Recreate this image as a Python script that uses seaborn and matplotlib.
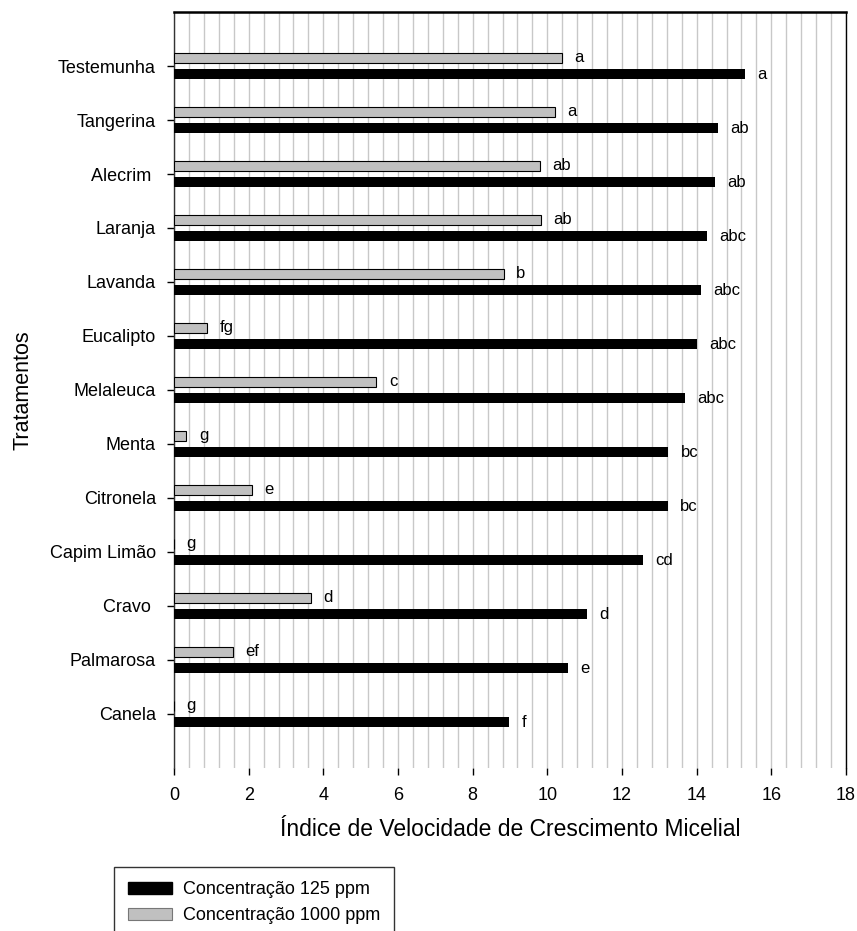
import matplotlib
matplotlib.use("Agg")
import matplotlib.pyplot as plt
from matplotlib.patches import Patch
from matplotlib.ticker import MultipleLocator
import numpy as np
import pandas as pd
import seaborn as sns

# values
treatments = ["Testemunha", "Tangerina", "Alecrim ", "Laranja", "Lavanda", "Eucalipto",
              "Melaleuca", "Menta", "Citronela", "Capim Limão", "Cravo ", "Palmarosa", "Canela"]
conc_125 = [15.29, 14.56, 14.48, 14.28, 14.11, 14.00, 13.69, 13.24, 13.22, 12.55, 11.05, 10.56, 8.97]
conc_1000 = [10.39, 10.21, 9.80, 9.82, 8.83, 0.89, 5.42, 0.33, 2.08, 0.0, 3.66, 1.57, 0.0]
letters_125 = ["a", "ab", "ab", "abc", "abc", "abc", "abc", "bc", "bc", "cd", "d", "e", "f"]
letters_1000 = ["a", "a", "ab", "ab", "b", "fg", "c", "g", "e", "g", "d", "ef", "g"]

series_names = ["Concentração 125 ppm", "Concentração 1000 ppm"]
series_colors = {"Concentração 125 ppm": "#000000", "Concentração 1000 ppm": "#c0c0c0"}

df = pd.DataFrame({
    "Tratamento": treatments * 2,
    "Indice": conc_125 + conc_1000,
    "Concentracao": [series_names[0]] * len(treatments) + [series_names[1]] * len(treatments),
})

sns.set_style("white")
plt.rcParams["font.family"] = ["Liberation Sans", "DejaVu Sans"]
plt.rcParams["text.color"] = "black"
plt.rcParams["axes.labelcolor"] = "black"
plt.rcParams["xtick.color"] = "black"
plt.rcParams["ytick.color"] = "black"

fig = plt.figure(figsize=(8.57, 9.31), dpi=100)
ax = fig.add_axes([174 / 857, 1 - 768 / 931, (846 - 174) / 857, (768 - 12) / 931])

# gray (1000 ppm) first so it sits above the black bar
hue_order = [series_names[1], series_names[0]]
sns.barplot(data=df, y="Tratamento", x="Indice", hue="Concentracao", hue_order=hue_order,
            order=treatments, palette=series_colors, orient="h", width=0.6, gap=0.4,
            saturation=1, legend=False, ax=ax, zorder=3)

gray_bars, black_bars = ax.containers[0], ax.containers[1]
for p in gray_bars:
    p.set_edgecolor("black")
    p.set_linewidth(0.8)
for p in black_bars:
    p.set_edgecolor("none")

ax.bar_label(gray_bars, labels=letters_1000, padding=9, fontsize=12)
ax.bar_label(black_bars, labels=letters_125, padding=9, fontsize=12)

ax.set_xlim(0, 18)
ax.set_ylim(13.0, -1.0)
ax.xaxis.set_major_locator(MultipleLocator(2))
ax.xaxis.set_minor_locator(MultipleLocator(0.4))
ax.set_axisbelow(True)
ax.grid(True, which="both", axis="x", color="#c8c8c8", lw=1.0)
ax.grid(False, axis="y")

ax.tick_params(axis="x", which="major", bottom=True, length=5, width=1, color="black",
               labelsize=13, pad=9)
ax.tick_params(axis="x", which="minor", length=0)
ax.tick_params(axis="y", left=True, length=5, width=1, color="black", labelsize=13, pad=8)

for side in ["top", "right", "left"]:
    ax.spines[side].set_visible(True)
ax.spines["bottom"].set_visible(False)
ax.spines["top"].set_color("black")
ax.spines["top"].set_linewidth(1.8)
ax.spines["right"].set_color("black")
ax.spines["right"].set_linewidth(1.0)
ax.spines["left"].set_color("#333333")
ax.spines["left"].set_linewidth(1.0)

ax.set_xlabel("Índice de Velocidade de Crescimento Micelial", fontsize=16.5, labelpad=10)
ax.set_ylabel("Tratamentos", fontsize=15.5, labelpad=12)

handles = [Patch(facecolor="black", edgecolor="black", label=series_names[0]),
           Patch(facecolor="#c0c0c0", edgecolor="#777777", linewidth=0.8, label=series_names[1])]
leg = fig.legend(handles=handles, loc="upper left", bbox_to_anchor=(114 / 857, 1 - 867 / 931),
                 frameon=True, fancybox=False, edgecolor="black", fontsize=13,
                 handlelength=2.4, handleheight=0.7, borderpad=0.8, labelspacing=0.5,
                 handletextpad=0.6, borderaxespad=0)
leg.get_frame().set_linewidth(1.0)

fig.savefig("out.png", dpi=100)
